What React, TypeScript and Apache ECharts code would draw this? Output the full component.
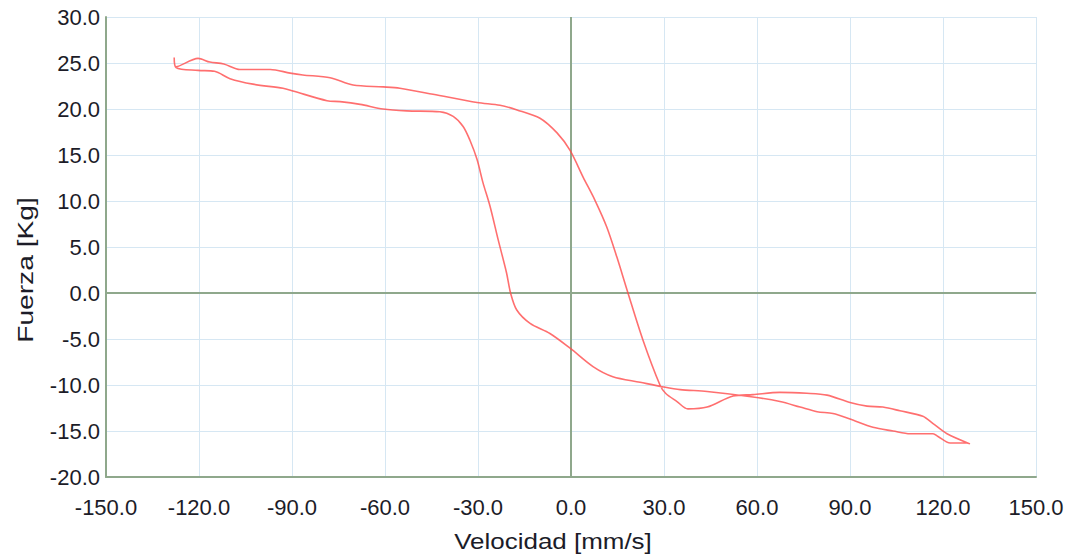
import React, { useEffect, useRef } from "react";
import * as echarts from "echarts";

// Velocity [mm/s] and force [Kg] along the hysteresis loop
const velocity: number[] = [
  -128, -127.4, -120.3, -116.5, -112, -106.8, -97, -90.6, -86.5, -77.7, -70.3, -60.6, -55.2, -44.5,
  -30.3, -22.9, -17.4, -10, -4.5, -0.3, 3.9, 7.7, 11.5, 14.8, 18.2, 23.2, 28.7, 30.5, 34.2, 37.7,
  43.9, 52.3, 58.7, 67.4, 76.1, 82.6, 90, 95.5, 100.6, 106.1, 113.5, 116.8, 121.3, 128.7,
  127.7, 122.3, 118.4, 116.8, 109.4, 103.9, 97.4, 90, 84.5, 79.4, 73.9, 67.4, 58.7, 43.9, 35.2,
  29.7, 22.3, 13.5, 7.1, -0.3, -6.8, -13.2, -17.5, -19.5, -20.8, -23.5, -26.1, -28.4, -30.3,
  -32.6, -34.8, -38, -42.3, -53, -60.6, -68, -74.5, -78.7, -89.7, -92.9, -102.6, -110, -115,
  -120.3, -127.4, -128,
];
const force: number[] = [
  25.6, 24.6, 25.5, 25.1, 24.9, 24.3, 24.3, 23.9, 23.7, 23.4, 22.6, 22.4, 22.25, 21.6,
  20.7, 20.4, 19.9, 19.0, 17.4, 15.5, 12.6, 10.1, 7.2, 3.9, 0.2, -5.1, -10.0, -10.9, -11.8, -12.6,
  -12.4, -11.2, -11.05, -10.8, -10.9, -11.1, -11.9, -12.3, -12.4, -12.8, -13.4, -14.2, -15.3, -16.4,
  -16.3, -16.3, -15.6, -15.3, -15.3, -15.0, -14.6, -13.7, -13.1, -12.9, -12.4, -11.8, -11.3, -10.7, -10.5,
  -10.2, -9.7, -9.1, -8.0, -6.0, -4.4, -3.3, -1.85, 0, 2.2, 5.8, 9.4, 12.0, 14.5,
  16.6, 18.1, 19.2, 19.7, 19.8, 20.0, 20.5, 20.8, 20.9, 21.96, 22.25, 22.7, 23.3, 24.1,
  24.2, 24.5, 25.6,
];

const xTicks = { min: -150, max: 150, interval: 30 };
const yTicks = { min: -20, max: 30, interval: 5 };

const xName = "Velocidad [mm/s]";
const yName = "Fuerza [Kg]";

export default function App() {
  const ref = useRef<HTMLDivElement>(null);
  useEffect(() => {
    if (!ref.current) return;
    const chart = echarts.init(ref.current, null, { renderer: "svg" });
    const pts = velocity.map((v, i) => [v, force[i]]);
    const font = "'Liberation Sans', Arial, sans-serif";
    const gridColor = "#d6e7f3";
    const axisColor = "#8fa88c";
    const textColor = "#1c1c28";
    chart.setOption({
      animation: false,
      backgroundColor: "#ffffff",
      grid: { left: 106, right: 39, top: 17, bottom: 80, containLabel: false },
      xAxis: {
        type: "value",
        min: xTicks.min,
        max: xTicks.max,
        interval: xTicks.interval,
        axisLine: { onZero: false, lineStyle: { color: axisColor, width: 2 } },
        axisTick: { show: false },
        axisLabel: {
          color: textColor,
          fontFamily: font,
          fontSize: 22,
          margin: 19,
          formatter: (v: number) => v.toFixed(1),
        },
        splitLine: { show: true, lineStyle: { color: gridColor, width: 1 } },
      },
      yAxis: {
        type: "value",
        min: yTicks.min,
        max: yTicks.max,
        interval: yTicks.interval,
        axisLine: { show: true, onZero: false, lineStyle: { color: axisColor, width: 2 } },
        axisTick: { show: false },
        axisLabel: {
          color: textColor,
          fontFamily: font,
          fontSize: 22,
          margin: 6,
          formatter: (v: number) => v.toFixed(1),
        },
        splitLine: { show: true, lineStyle: { color: gridColor, width: 1 } },
      },
      graphic: [
        {
          type: "text",
          x: 553,
          y: 541,
          scaleX: 1.18,
          style: {
            text: xName,
            fontFamily: font,
            fontSize: 22,
            fill: textColor,
            align: "center",
            verticalAlign: "middle",
          },
        },
        {
          type: "text",
          x: 25,
          y: 270,
          rotation: Math.PI / 2,
          scaleX: 1.28,
          style: {
            text: yName,
            fontFamily: font,
            fontSize: 22,
            fill: textColor,
            align: "center",
            verticalAlign: "middle",
          },
        },
      ],
      series: [
        {
          type: "line",
          data: pts,
          showSymbol: false,
          smooth: 0.3,
          lineStyle: { color: "rgba(255,75,75,0.8)", width: 1.6 },
          markLine: {
            silent: true,
            symbol: "none",
            label: { show: false },
            lineStyle: { color: axisColor, width: 2, type: "solid" },
            data: [{ xAxis: 0 }, { yAxis: 0 }],
            z: 1,
          },
        },
      ],
    });
    return () => chart.dispose();
  }, []);
  return (
    <div
      ref={ref}
      style={{ position: "fixed", left: 0, top: 0, width: 1075, height: 557 }}
    />
  );
}
